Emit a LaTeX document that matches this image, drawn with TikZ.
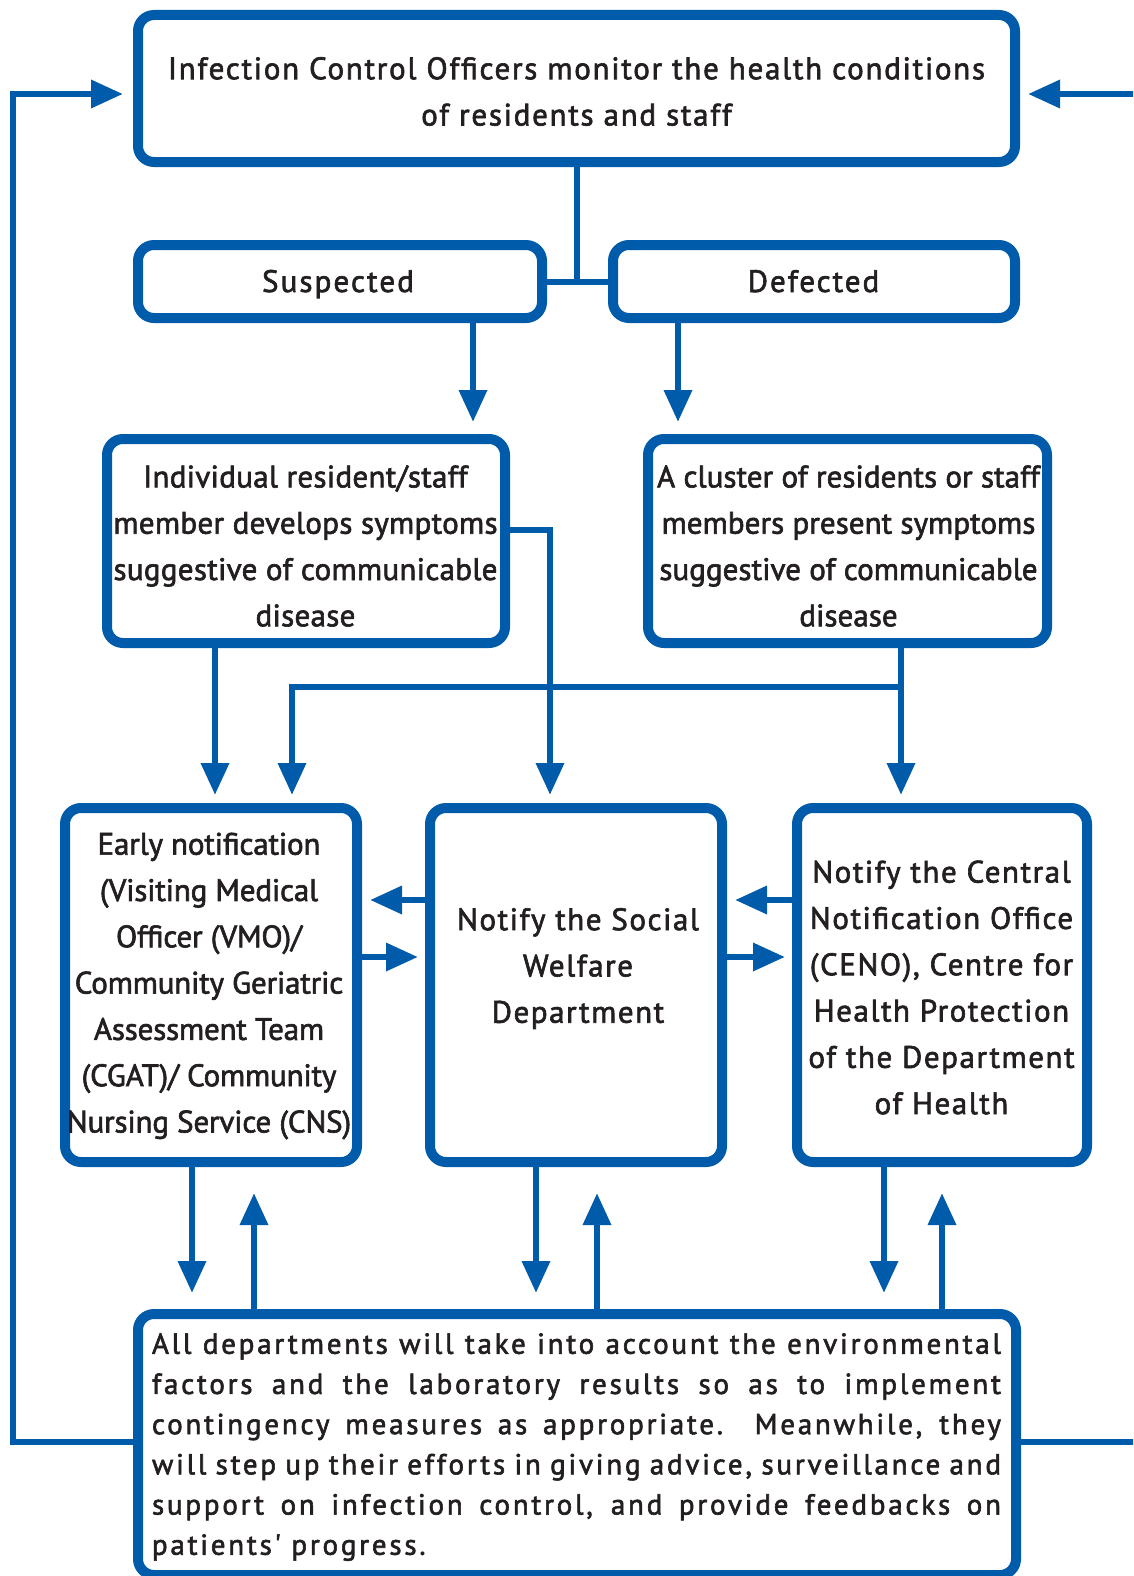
\documentclass[tikz,border=0pt]{standalone}
\usepackage{fontspec}
\usetikzlibrary{arrows.meta}
\newfontfamily\dfont[FakeBold=2]{PT Sans}
\definecolor{dblue}{RGB}{0,91,170}
\definecolor{dtext}{RGB}{35,31,32}
\begin{document}
\begin{tikzpicture}[x=1pt,y=-1pt,
  box/.style={draw=dblue, line width=10pt, rounded corners=16pt, fill=white, inner sep=0pt},
  lbl/.style={font=\dfont\fontsize{31}{46.3}\selectfont\addfontfeatures{LetterSpace=#1}, text=dtext, align=center, inner sep=0pt},
  btxt/.style={font=\dfont\fontsize{29}{40.2}\selectfont\addfontfeatures{LetterSpace=9.6}, text=dtext, align=justify, text width=849pt, inner sep=0pt},
  conn/.style={draw=dblue, line width=6.5pt},
  arr/.style={conn, -{Triangle[length=32pt,width=27pt]}}]
\clip (0,0) rectangle (1133,1576);
% boxes
\node[box, minimum width=877pt, minimum height=147pt] (top) at (576.5,88.5) {};
\node[box, minimum width=404pt, minimum height=73pt] (sus) at (340,281.5) {};
\node[box, minimum width=402pt, minimum height=73pt] (def) at (814,281.5) {};
\node[box, minimum width=398pt, minimum height=204pt] (ind) at (306,541) {};
\node[box, minimum width=399pt, minimum height=204pt] (clu) at (847.5,541) {};
\node[box, minimum width=292pt, minimum height=354pt] (early) at (211,985) {};
\node[box, minimum width=292pt, minimum height=354pt] (swd) at (576,985) {};
\node[box, minimum width=290pt, minimum height=354pt] (ceno) at (942,985) {};
\node[box, minimum width=878pt, minimum height=261pt] (bot) at (577,1444.5) {};
% texts
\node[lbl=5.6] (topT) at (576.5,91.5) {Infection Control Officers monitor the health conditions\\of residents and staff};
\node[lbl=6.8, anchor=base] (susT) at (338,292) {Suspected};
\node[lbl=6.4, anchor=base] (defT) at (813.5,292) {Defected};
\node[lbl=1] (indT) at (305.5,546) {Individual resident/staff\\member develops symptoms\\suggestive of communicable\\disease};
\node[lbl=0.2] (cluT) at (848.5,546) {A cluster of residents or staff\\members present symptoms\\suggestive of communicable\\disease};
\node[lbl=-0.5] (earlyT) at (209,986) {Early notification\\(Visiting Medical\\Officer (VMO)/\\Community Geriatric\\Assessment Team\\(CGAT)/ Community\\Nursing Service (CNS)};
\node[lbl=5] (swdT) at (578,968.5) {Notify the Social\\Welfare\\Department};
\node[lbl=5] (cenoT) at (941.5,987.5) {Notify the Central\\Notification Office\\(CENO), Centre for\\Health Protection\\of the Department\\of Health};
\node[btxt] (botT) at (576.5,1447) {All departments will take into account the environmental\linebreak factors and the laboratory results so as to implement\linebreak contingency measures as appropriate.\ \ Meanwhile, they\linebreak will step up their efforts in giving advice, surveillance and\linebreak support on infection control, and provide feedbacks on\linebreak patients' progress.};
% coordinates
\coordinate (j1) at (577,282);
\coordinate (t1) at (473,422);
\coordinate (t2) at (678,422);
\coordinate (b1) at (550,530);
\coordinate (t3) at (550,795);
\coordinate (t4) at (215,795);
\coordinate (h1) at (901,687);
\coordinate (h2) at (292,687);
\coordinate (t5) at (292,795);
\coordinate (t6) at (901,795);
\coordinate (t7) at (370,900);
\coordinate (t8) at (418,957);
\coordinate (t9) at (735,900);
\coordinate (t10) at (785,957);
\coordinate (d1) at (192,1293);
\coordinate (u1) at (254,1193);
\coordinate (d2) at (536,1293);
\coordinate (u2) at (597,1193);
\coordinate (d3) at (884,1293);
\coordinate (u3) at (942,1193);
\coordinate (fl1) at (13,1442);
\coordinate (fl2) at (13,94);
\coordinate (tl) at (123,94);
\coordinate (fr1) at (1160,1442);
\coordinate (fr2) at (1160,94);
\coordinate (tr) at (1028,94);
% connectors
\draw[conn] (top.south -| j1) -- (j1);
\draw[conn] (sus.east |- j1) -- (def.west |- j1);
\draw[arr] (sus.south -| t1) -- (t1);
\draw[arr] (def.south -| t2) -- (t2);
\draw[arr] (ind.east |- b1) -- (b1) -- (t3);
\draw[arr] (ind.south -| t4) -- (t4);
\draw[conn] (clu.south -| h1) -- (h1);
\draw[arr] (h1) -- (t6);
\draw[arr] (h1) -- (h2) -- (t5);
\draw[arr] (swd.west |- t7) -- (t7);
\draw[arr] (early.east |- t8) -- (t8);
\draw[arr] (ceno.west |- t9) -- (t9);
\draw[arr] (swd.east |- t10) -- (t10);
\draw[arr] (early.south -| d1) -- (d1);
\draw[arr] (bot.north -| u1) -- (u1);
\draw[arr] (swd.south -| d2) -- (d2);
\draw[arr] (bot.north -| u2) -- (u2);
\draw[arr] (ceno.south -| d3) -- (d3);
\draw[arr] (bot.north -| u3) -- (u3);
\draw[arr] (bot.west |- fl1) -- (fl1) -- (fl2) -- (tl);
\draw[arr] (bot.east |- fr1) -- (fr1) -- (fr2) -- (tr);
\end{tikzpicture}
\end{document}
